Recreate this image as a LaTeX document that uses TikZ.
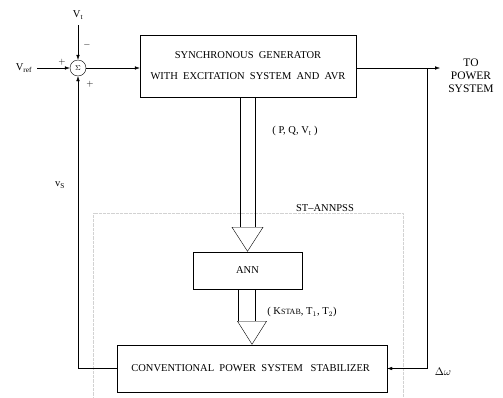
\documentclass[tikz,border=0pt]{standalone}
\usepackage{fontspec}
\setmainfont{Liberation Serif}
\usetikzlibrary{arrows.meta, shapes.geometric, positioning}

\begin{document}
\begin{tikzpicture}[
    x=1pt, y=-1pt,
    font=\fontsize{10.5}{12}\selectfont,
    block/.style={
        rectangle, draw, inner sep=0pt, fill=white,
        align=center
    },
    sumnode/.style={
        circle, draw, minimum size=16pt, inner sep=0pt
    },
    funnel/.style={
        isosceles triangle, draw, fill=white,
        shape border rotate=-90, isosceles triangle stretches,
        minimum width=31pt, minimum height=24pt, inner sep=0pt
    },
    arrow/.style={-{Latex[length=5pt, width=3.5pt]}},
    sign/.style={font=\fontsize{9}{10}\selectfont, inner sep=0pt},
    label/.style={inner sep=0pt}
]
\useasboundingbox (0,0) rectangle (503,397);

%% ─── faint dotted frame: ST-ANNPSS ─────────────────────────────
\draw[gray!35, densely dotted, line width=0.3pt] (93,397) -- (93,213) -- (403,213) -- (403,397);

%% ─── BLOCKS ──────────────────────────────────────────────────
\node[sumnode] (sum) at (78,68) {$\scriptstyle\Sigma$};

\node[block, minimum width=216pt, minimum height=62pt] (gen) at (248,66) {
    SYNCHRONOUS\ \ GENERATOR \\[9pt]
    WITH\ \ EXCITATION\ \ SYSTEM\ \ AND\ \ AVR
};

\node[block, minimum width=109pt, minimum height=37pt] (ann) at (247.5,270.5) {ANN};

\node[block, minimum width=270pt, minimum height=47pt] (cpss) at (252,368.5) {
    CONVENTIONAL\ \ POWER\ \ SYSTEM\ \ \ STABILIZER
};

% funnels (wide arrows into ANN and stabilizer)
\node[funnel, anchor=apex] (fanA) at (ann.north) {};
\node[funnel, anchor=apex, minimum width=29pt, minimum height=23pt] (fanB) at (cpss.north) {};

%% ─── LABELS ──────────────────────────────────────────────────
\node[label] (vt)   at (78,15)  {V$_\mathrm{t}$};
\node[label] (vref) at (24,68)  {V$_\mathrm{ref}$};
\node[label] (vs)   at (60,185) {v$_\mathrm{S}$};
\node[label, align=center, font=\fontsize{11.5}{13}\selectfont] (tops) at (471,76) {TO\\POWER\\SYSTEM};
\node[label] (dw)   at (443,372) {$\Delta\omega$};
\node[label] (pqv)  at (295,131) {( P, Q, V$_\mathrm{t}$ )};
\node[label] (st)   at (325,208) {ST--ANNPSS};
\node[label] (kt)   at (302,312) {( K{\fontsize{8}{9}\selectfont STAB}, T$_1$, T$_2$)};

\node[sign] at (87,45) {$-$};
\node[sign] at (62,62) {$+$};
\node[sign] at (90,84) {$+$};

%% ─── ARROWS ──────────────────────────────────────────────────
\draw[arrow] (vt.south) ++(0,6) -- (sum.north);
\draw[arrow] (vref.east) ++(5,0) -- (sum.west);
\draw[arrow] (sum.east) -- (gen.west |- sum.east);

% output to power system, tap for speed deviation
\coordinate (tap) at (427,68);
\draw[arrow] (gen.east |- tap) -- (440,68);
\draw[arrow] (tap) |- (cpss.east);

% stabilizer output back to summing junction
\draw[arrow] (cpss.west) -| (sum.south);

% double lines into the funnels
\draw (gen.south -| 240,0) -- (fanA.north -| 240,0);
\draw (gen.south -| 255,0) -- (fanA.north -| 255,0);
\draw (ann.south -| 238,0) -- (fanB.north -| 238,0);
\draw (ann.south -| 255,0) -- (fanB.north -| 255,0);

\end{tikzpicture}
\end{document}
